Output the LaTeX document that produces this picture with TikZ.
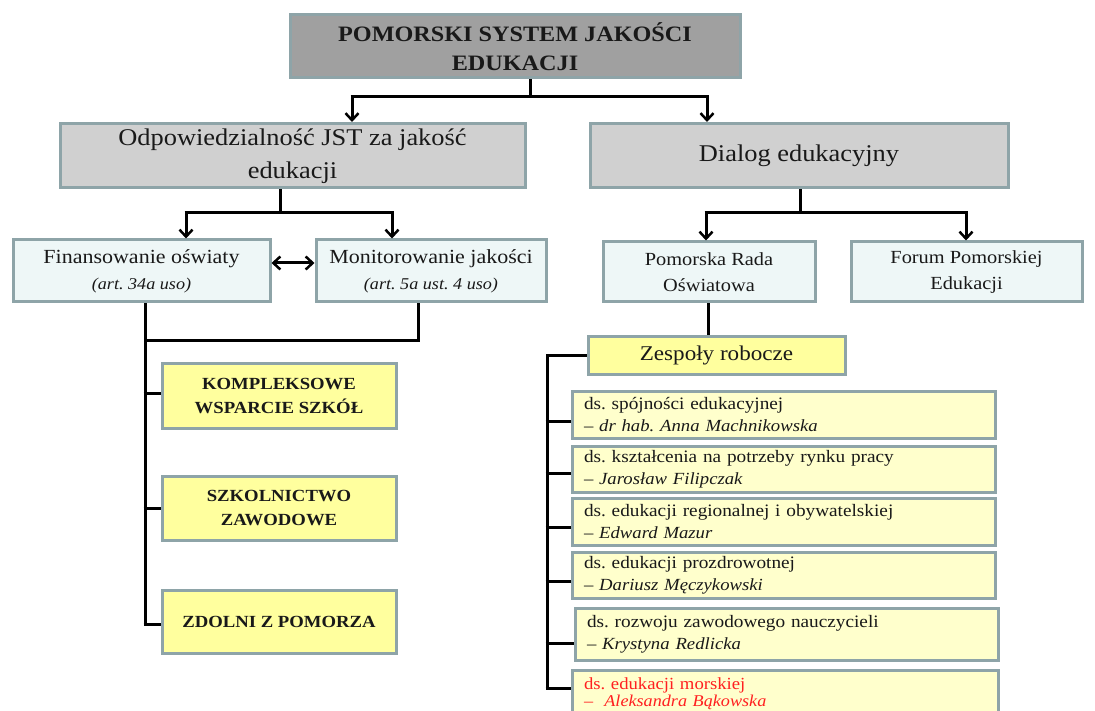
\documentclass[tikz,border=0pt]{standalone}
\usepackage{fontspec}
\setmainfont{Liberation Serif}[FakeStretch=1.1]
\usetikzlibrary{arrows.meta}
\definecolor{bordc}{HTML}{8EA4A8}
\definecolor{topg}{HTML}{A0A0A0}
\definecolor{midg}{HTML}{D0D0D0}
\definecolor{cyanl}{HTML}{EEF7F7}
\definecolor{yel}{HTML}{FFFF9E}
\definecolor{yell}{HTML}{FFFFCC}
\definecolor{redt}{HTML}{FF2020}
\frenchspacing
\tikzset{
  x=1pt, y=-1pt,
  bx/.style={draw=bordc, line width=3pt, inner sep=2pt, align=center, text=black!90},
  topbox/.style={bx, fill=topg, font=\fontsize{22}{29}\selectfont\bfseries},
  midbox/.style={bx, fill=midg, font=\fontsize{24}{33}\selectfont},
  cybox/.style={bx, fill=cyanl, font=\fontsize{20}{26}\selectfont},
  cysbox/.style={bx, fill=cyanl, font=\fontsize{18.5}{26}\selectfont},
  ylbox/.style={bx, fill=yel, font=\fontsize{17}{24}\selectfont\bfseries},
  zbox/.style={bx, fill=yel, font=\fontsize{21}{24}\selectfont},
  tmbox/.style={bx, fill=yell, align=left, inner xsep=12pt, font=\fontsize{17.5}{22}\selectfont},
  conn/.style={line width=3pt, black},
  arr/.style={conn, -{Straight Barb[length=7pt,width=13pt,line width=2.5pt]}},
  darr/.style={conn, {Straight Barb[length=7pt,width=13pt,line width=2.5pt]}-{Straight Barb[length=7pt,width=13pt,line width=2.5pt]}},
}
\newcommand{\artx}[1]{{\fontsize{16.5}{22}\selectfont\itshape #1}}
\newcommand{\who}[1]{{\fontsize{17}{22}\selectfont\itshape #1}}
\begin{document}
\begin{tikzpicture}
\useasboundingbox (0,0) rectangle (1095,711);
\fill[white] (0,0) rectangle (1095,711);
% top
\node[topbox, minimum width=450, minimum height=63] (top) at (515,46.5) {POMORSKI SYSTEM JAKOŚCI\\EDUKACJI};
% level 2
\node[midbox, minimum width=465, minimum height=64] (jst) at (292.5,156) {Odpowiedzialność JST za jakość\\edukacji};
\node[midbox, minimum width=418, minimum height=64] (dia) at (799,156) {Dialog edukacyjny};
% level 3
\node[cybox, minimum width=257, minimum height=62] (fin) at (141.5,271) {Finansowanie oświaty\\\artx{(art. 34a uso)}};
\node[cybox, minimum width=230, minimum height=62] (mon) at (431,271) {Monitorowanie jakości\\\artx{(art. 5a ust. 4 uso)}};
\node[cysbox, minimum width=212, minimum height=60] (pro) at (709,272) {Pomorska Rada\\Oświatowa};
\node[cysbox, minimum width=231, minimum height=60] (fpe) at (966.5,272) {Forum Pomorskiej\\Edukacji};
% left yellow
\node[ylbox, minimum width=234, minimum height=65] (kws) at (279,395.5) {KOMPLEKSOWE\\WSPARCIE SZKÓŁ};
\node[ylbox, minimum width=234, minimum height=64] (szk) at (279,508) {SZKOLNICTWO\\ZAWODOWE};
\node[ylbox, minimum width=234, minimum height=63] (zdp) at (279,621.5) {ZDOLNI Z POMORZA};
% zespoly
\node[zbox, minimum width=257, minimum height=38] (zes) at (716.5,355) {Zespoły robocze};
% teams
\node[tmbox, text width=399, minimum height=47] (t1) at (783.5,414.5) {ds. spójności edukacyjnej\\\who{– dr hab. Anna Machnikowska}};
\node[tmbox, text width=399, minimum height=46] (t2) at (783.5,469) {ds. kształcenia na potrzeby rynku pracy\\\who{– Jarosław Filipczak}};
\node[tmbox, text width=399, minimum height=47] (t3) at (783.5,521.5) {ds. edukacji regionalnej i obywatelskiej\\\who{– Edward Mazur}};
\node[tmbox, text width=399, minimum height=46] (t4) at (783.5,575) {ds. edukacji prozdrowotnej\\\who{– Dariusz Męczykowski}};
\node[tmbox, text width=399, minimum height=52] (t5) at (786.5,634) {ds. rozwoju zawodowego nauczycieli\\\who{– Krystyna Redlicka}};
\node[tmbox, text width=402, minimum height=46, text=redt, anchor=north, inner ysep=0pt,
      font=\fontsize{17}{17.5}\selectfont] (t6) at (785,669) {ds. edukacji morskiej\\{\fontsize{16.5}{17.5}\selectfont\itshape –\ \ Aleksandra Bąkowska}};
% connectors top
\coordinate (j1) at (530,97);
\draw[conn] (top.south -| j1) -- (j1);
\draw[arr] (352,97) -- (352,122);
\draw[arr] (707,97) -- (707,122);
\draw[conn] (350.5,97) -- (708.5,97);
% jst
\coordinate (j2) at (280,213);
\draw[conn] (jst.south -| j2) -- (j2);
\draw[conn] (184.5,213) -- (393.5,213);
\draw[arr] (186,213) -- (fin.north -| 186,0);
\draw[arr] (392,213) -- (mon.north -| 392,0);
% dia
\coordinate (j3) at (800,213);
\draw[conn] (dia.south -| j3) -- (j3);
\draw[conn] (704.5,213) -- (967.5,213);
\draw[arr] (706,213) -- (pro.north -| 706,0);
\draw[arr] (966,213) -- (fpe.north -| 966,0);
% fin-mon
\draw[darr] (fin.east |- 0,263) -- (mon.west |- 0,263);
% left tree
\coordinate (lb) at (145,340);
\coordinate (lr) at (418,340);
\draw[conn] (fin.south -| lb) -- (145,625.5);
\draw[conn] (mon.south -| lr) -- (lr) -- (143.5,340);
\draw[conn] (143.5,393) -- (kws.west |- 0,393);
\draw[conn] (143.5,508) -- (szk.west |- 0,508);
\draw[conn] (143.5,624) -- (zdp.west |- 0,624);
% right tree
\draw[conn] (pro.south -| 708,0) -- (zes.north -| 708,0);
\draw[conn] (zes.west) -- (547,355) -- (547,689.5);
\draw[conn] (545.5,421) -- (t1.west |- 0,421);
\draw[conn] (545.5,473) -- (t2.west |- 0,473);
\draw[conn] (545.5,527) -- (t3.west |- 0,527);
\draw[conn] (545.5,581) -- (t4.west |- 0,581);
\draw[conn] (545.5,643) -- (t5.west |- 0,643);
\draw[conn] (545.5,688) -- (t6.west |- 0,688);
\end{tikzpicture}
\end{document}
